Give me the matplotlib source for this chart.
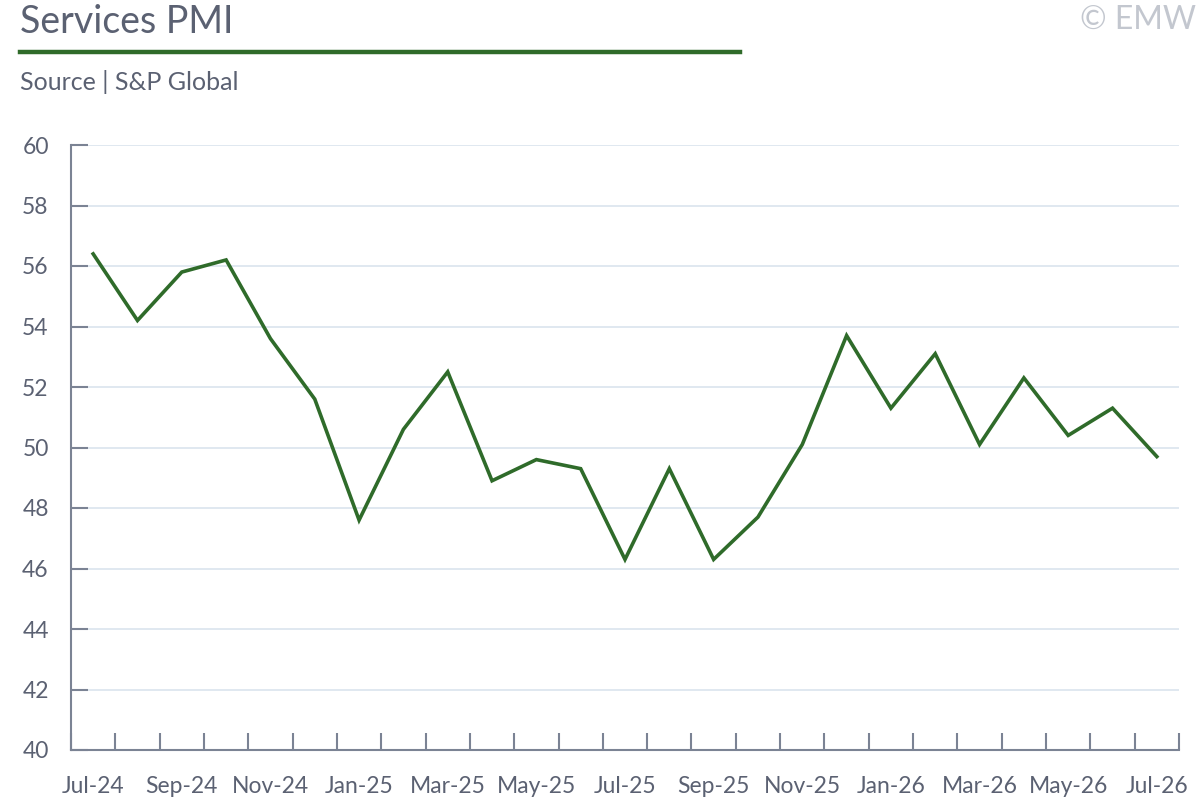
import matplotlib
matplotlib.use("Agg")
import matplotlib.pyplot as plt
import numpy as np

months = ["Jul-24", "Aug-24", "Sep-24", "Oct-24", "Nov-24", "Dec-24",
          "Jan-25", "Feb-25", "Mar-25", "Apr-25", "May-25", "Jun-25",
          "Jul-25", "Aug-25", "Sep-25", "Oct-25", "Nov-25", "Dec-25",
          "Jan-26", "Feb-26", "Mar-26", "Apr-26", "May-26", "Jun-26", "Jul-26"]
pmi = [56.4, 54.2, 55.8, 56.2, 53.6, 51.6, 47.6, 50.6, 52.5, 48.9, 49.6, 49.3,
       46.3, 49.3, 46.3, 47.7, 50.1, 53.7, 51.3, 53.1, 50.1, 52.3, 50.4, 51.3, 49.7]
yticks = [40, 42, 44, 46, 48, 50, 52, 54, 56, 58, 60]

plt.rcParams['font.family'] = ['Lato', 'DejaVu Sans']
text_col = "#5b6172"
axis_col = "#7b8394"
grid_col = "#dde6ef"
green = "#2f6b2a"

fig = plt.figure(figsize=(12, 8), dpi=100)
ax = fig.add_axes([71/1200, 1-750/800, (1179-71)/1200, (750-145)/800])

x = np.arange(len(months))
ax.plot(x, pmi, color=green, lw=2.6, solid_joinstyle='miter', zorder=3)

ax.set_xlim(-0.5, len(months)-0.5)
ax.set_ylim(40, 60)
ax.set_yticks(yticks)
ax.set_yticklabels([str(v) for v in yticks])
for v in yticks[1:]:
    ax.axhline(v, color=grid_col, lw=1.3, zorder=1)

# category boundary ticks
ax.set_xticks(np.arange(-0.5, len(months)+0.5, 1))
ax.set_xticklabels([])
ax.tick_params(axis='x', which='major', direction='in', length=12, width=1.5, color=axis_col)
ax.set_xticks(x[::2], minor=True)
ax.set_xticklabels(months[::2], minor=True)
ax.tick_params(axis='x', which='minor', length=0, pad=19, labelsize=16.5, labelcolor=text_col)
ax.tick_params(axis='y', direction='in', length=12, width=1.5, color=axis_col,
               labelsize=16.5, labelcolor=text_col, pad=16)

for s in ['top', 'right']:
    ax.spines[s].set_visible(False)
for s in ['left', 'bottom']:
    ax.spines[s].set_color(axis_col)
    ax.spines[s].set_linewidth(1.5)

fig.text(20/1200, 1-22/800, "Services PMI", fontsize=27, color=text_col, va='center', ha='left')
fig.text(20/1200, 1-82/800, "Source | S&P Global", fontsize=18, color=text_col, va='center', ha='left')
fig.text(1196/1200, 1-20/800, "© EMW", fontsize=23, color="#c3c7cf", va='center', ha='right')
fig.add_artist(plt.Line2D([20/1200, 740/1200], [1-51.5/800, 1-51.5/800], color=green, lw=3.2))

fig.savefig("out.png", dpi=100)
